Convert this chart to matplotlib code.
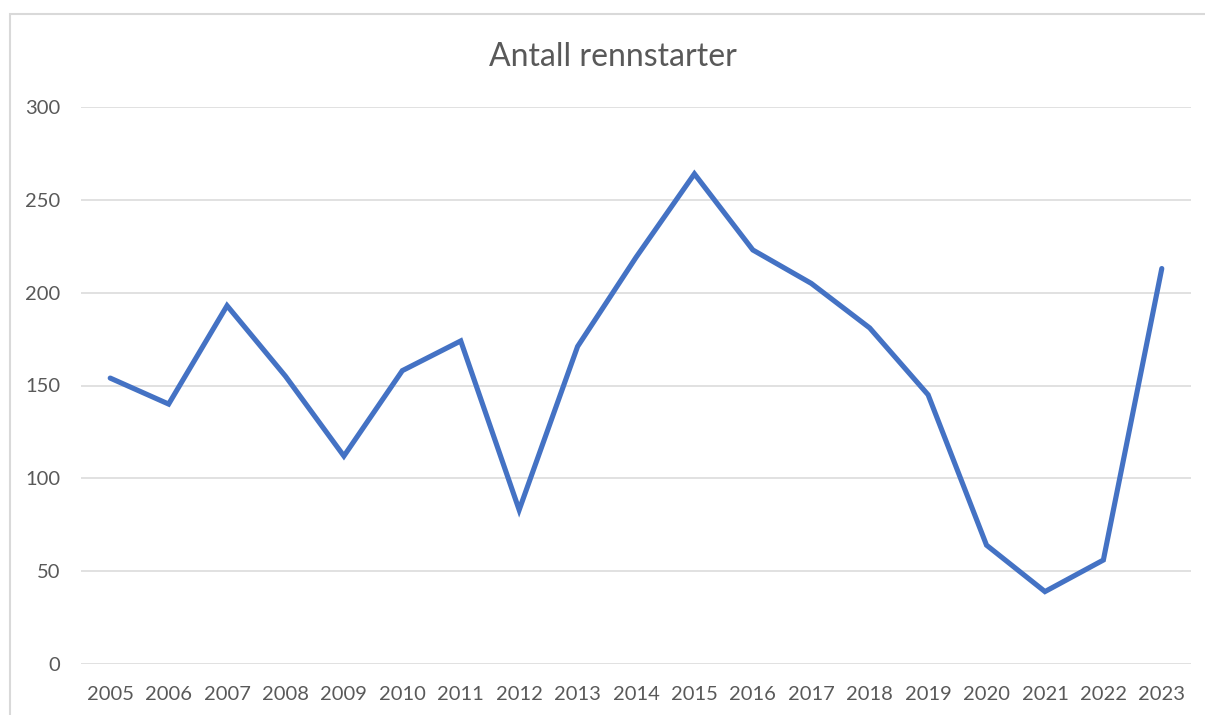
import matplotlib.pyplot as plt
from matplotlib.patches import Rectangle

years = ['2005', '2006', '2007', '2008', '2009', '2010', '2011', '2012', '2013', '2014',
         '2015', '2016', '2017', '2018', '2019', '2020', '2021', '2022', '2023']
starts = [154, 140, 193, 155, 112, 158, 174, 83, 171, 219,
          264, 223, 205, 181, 145, 64, 39, 56, 213]
yticks = [0, 50, 100, 150, 200, 250, 300]

text_color = '#595959'
grid_color = '#D9D9D9'

plt.rcParams['font.family'] = ['Lato', 'DejaVu Sans']

fig = plt.figure(figsize=(12.05, 7.15), dpi=100)
ax = fig.add_axes([81 / 1205, 1 - 664 / 715, 1110 / 1205, 557 / 715])

# chart frame (runs off right and bottom edges)
fig.patches.append(Rectangle((10 / 1205, -0.05), 1.1, 1 - 14 / 715 + 0.05,
                             transform=fig.transFigure, fill=False,
                             edgecolor=grid_color, linewidth=1.5))

x = range(len(years))
ax.plot(x, starts, color='#4472C4', linewidth=3.7, solid_joinstyle='miter',
        solid_capstyle='round', zorder=3)

ax.set_xlim(-0.5, len(years) - 0.5)
ax.set_ylim(0, 300)
ax.set_xticks(list(x))
ax.set_xticklabels(years)
ax.set_yticks(yticks)
ax.set_yticklabels([str(v) for v in yticks])
ax.tick_params(axis='both', length=0, labelsize=14.5, colors=text_color)
ax.tick_params(axis='y', pad=15)
ax.tick_params(axis='x', pad=16)

for s in ax.spines.values():
    s.set_visible(False)
ax.grid(axis='y', color=grid_color, linewidth=1.1)
ax.set_axisbelow(True)

fig.text(613 / 1205, 1 - 57 / 715, 'Antall rennstarter', ha='center', va='center',
         fontsize=23, color=text_color)

fig.savefig('out.png', dpi=100)
